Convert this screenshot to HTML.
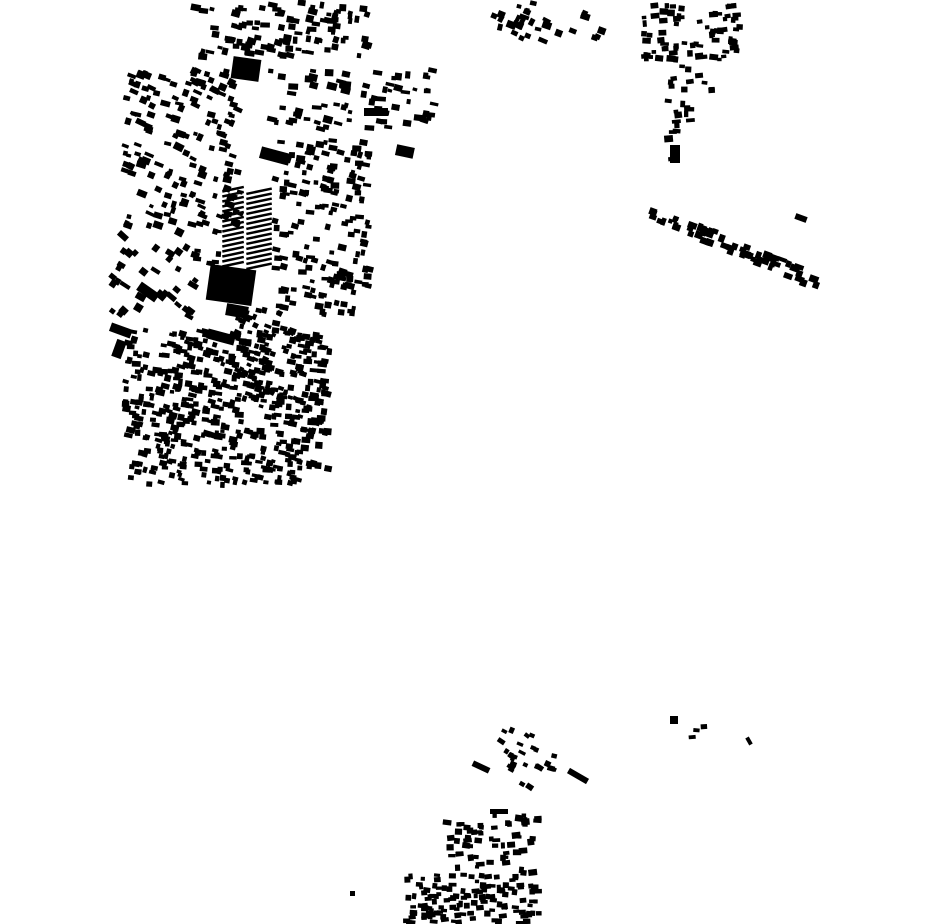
<!DOCTYPE html>
<html><head><meta charset="utf-8"><style>
html,body{margin:0;padding:0;background:#fff;width:930px;height:924px;overflow:hidden}
svg{display:block}
</style></head><body>
<svg id="s" width="930" height="924" xmlns="http://www.w3.org/2000/svg">
<g fill="#000">
<rect x="232" y="58" width="28" height="22" transform="rotate(8 246 69)"/>
<rect x="208" y="267" width="46" height="36" transform="rotate(8 231 285)"/>
<rect x="226" y="305" width="22" height="12" transform="rotate(10 237 311)"/>
<rect x="396" y="146" width="18" height="11" transform="rotate(12 405 151)"/>
<rect x="260" y="150" width="30" height="12" transform="rotate(15 275 156)"/>
<rect x="364" y="108" width="24" height="8"/>
<rect x="137" y="287" width="22" height="10" transform="rotate(35 148 292)"/>
<rect x="110" y="326" width="22" height="9" transform="rotate(20 121 330)"/>
<rect x="114" y="340" width="10" height="18" transform="rotate(20 119 349)"/>
<rect x="207" y="332" width="28" height="10" transform="rotate(15 221 337)"/>
<rect x="567" y="773" width="22" height="6" transform="rotate(30 578 776)"/>
<rect x="490" y="809" width="18" height="5"/>
<rect x="472" y="764" width="18" height="6" transform="rotate(25 481 767)"/>
<rect x="670" y="145" width="10" height="18"/>
<rect x="350" y="891" width="5" height="5"/>
<rect x="747" y="737" width="4" height="8" transform="rotate(-30 749 741)"/>
<rect x="670" y="716" width="8" height="8"/>
<rect x="795" y="215" width="12" height="6" transform="rotate(20 801 218)"/>
</g>
<g id="g" fill="#000"></g>
</svg>
<script>
(function(){
var seed=12345;function r(){seed=(seed*1103515245+12345)%2147483648;return seed/2147483648;}
var g=document.getElementById('g');var out='';
function fill(x,y,w,h,n,minw,maxw,angle){for(var i=0;i<n;i++){var cx=x+r()*w,cy=y+r()*h;var rw=minw+r()*(maxw-minw),rh=minw*0.8+r()*(maxw-minw)*0.7;var a=(angle||0)+(r()-0.5)*16;out+='<rect x="'+(cx-rw/2).toFixed(1)+'" y="'+(cy-rh/2).toFixed(1)+'" width="'+rw.toFixed(1)+'" height="'+rh.toFixed(1)+'" transform="rotate('+a.toFixed(0)+' '+cx.toFixed(1)+' '+cy.toFixed(1)+')"/>';}}
fill(195,2,175,55,100,4,10,10);
fill(125,70,115,160,160,4,10,20);
fill(270,70,165,60,75,4,10,10);
fill(275,140,95,175,170,4,9,10);
fill(125,330,205,110,380,4,9,10);
fill(130,440,170,45,130,4,8,10);
fill(110,230,90,90,35,5,11,35);
fill(195,230,25,40,10,4,9,10);
fill(235,310,60,90,55,4,8,20);
fill(295,380,40,90,14,5,9,10);
for(var i=0;i<16;i++){out+='<rect x="222" y="'+(188+i*5)+'" width="22" height="2.5" transform="rotate(-12 233 '+(189+i*5)+')"/>';out+='<rect x="246" y="'+(190+i*5)+'" width="26" height="2.5" transform="rotate(-12 259 '+(191+i*5)+')"/>';}
fill(493,3,112,40,30,4,10,20);
fill(643,5,97,55,75,4,9,0);
fill(668,65,45,30,12,4,8,0);
fill(668,100,27,60,14,4,9,0);
for(var k=0;k<60;k++){var t=r();var cx=648+t*170,cy=210+t*72+(r()-0.5)*14;var w=4+r()*6;out+='<rect x="'+(cx-w/2)+'" y="'+(cy-3)+'" width="'+w+'" height="'+(4+r()*4)+'" transform="rotate(20 '+cx+' '+cy+')"/>';}
fill(500,728,45,62,24,4,8,30);
fill(445,815,95,60,60,4,9,0);
fill(405,875,135,49,130,4,8,0);
fill(685,725,25,15,3,4,7,0);
fill(545,755,35,15,4,4,8,20);
g.innerHTML=out;
})();
</script>
</body></html>
